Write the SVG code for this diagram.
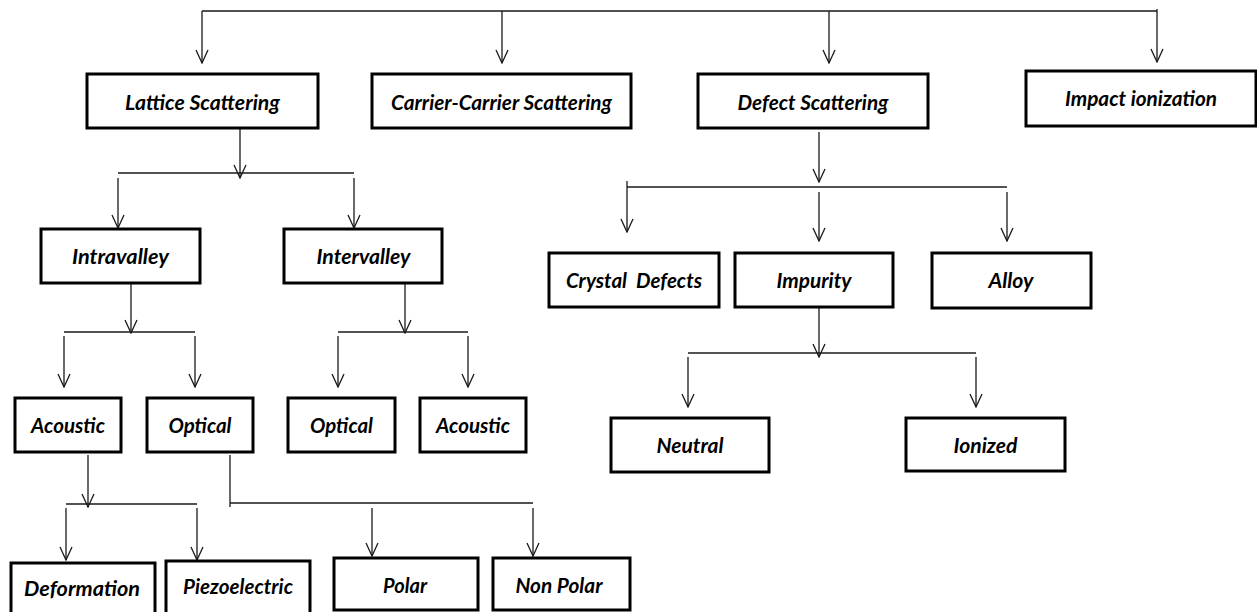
<svg xmlns="http://www.w3.org/2000/svg" width="1257" height="612" viewBox="0 0 1257 612">
<style>
.box rect{fill:#fff;stroke:#000;stroke-width:3}
.box text{font-family:Lato,"Open Sans","Liberation Sans",sans-serif;font-weight:bold;font-style:italic;font-size:21.5px;fill:#000;text-anchor:middle}
#connectors path{fill:none;stroke:#1a1a1a;stroke-width:1.3}
#connectors path.arr{marker-end:url(#v)}
</style>
<defs>
<marker id="v" viewBox="-7 -14 14 15" refX="0" refY="0" markerWidth="14" markerHeight="15" markerUnits="userSpaceOnUse" orient="0">
<path d="M-6,-13 L0,0 L6,-13" fill="none" stroke="#1a1a1a" stroke-width="1.3"/>
</marker>
</defs>
<rect width="1257" height="612" fill="#fff"/>
<g id="connectors">
<path d="M202,11 H1157 M1157,9 V11"/>
<path class="arr" d="M202,11 V63"/>
<path class="arr" d="M502,11 V63"/>
<path class="arr" d="M829,11 V63"/>
<path class="arr" d="M1157,11 V62"/>
<path class="arr" d="M240,128 V178"/>
<path d="M118,173 H354"/>
<path class="arr" d="M118,178 V228"/>
<path class="arr" d="M354,178 V228"/>
<path class="arr" d="M131,283 V333"/>
<path d="M64,332 H195"/>
<path class="arr" d="M64,336 V387"/>
<path class="arr" d="M195,336 V387"/>
<path class="arr" d="M405,283 V333"/>
<path d="M338,332 H468"/>
<path class="arr" d="M338,336 V387"/>
<path class="arr" d="M468,336 V387"/>
<path class="arr" d="M88,455 V507"/>
<path d="M66,504 H197"/>
<path class="arr" d="M66,508 V560"/>
<path class="arr" d="M197,508 V560"/>
<path d="M230,455 V507 M230,503 H533"/>
<path class="arr" d="M372,508 V556"/>
<path class="arr" d="M533,508 V556"/>
<path class="arr" d="M819,132 V182"/>
<path d="M627,187 H1007"/>
<path class="arr" d="M627,181 V232"/>
<path class="arr" d="M819,192 V241"/>
<path class="arr" d="M1007,192 V241"/>
<path class="arr" d="M819,307 V357"/>
<path d="M688,353 H976"/>
<path class="arr" d="M688,357 V407"/>
<path class="arr" d="M976,357 V407"/>
</g>
<g id="lattice" class="box"><rect x="87" y="74" width="231" height="54"/><text x="202.5" y="110" textLength="155" lengthAdjust="spacingAndGlyphs">Lattice Scattering</text></g>
<g id="carrier" class="box"><rect x="372" y="74" width="259" height="54"/><text x="501.5" y="110" textLength="221" lengthAdjust="spacingAndGlyphs">Carrier-Carrier Scattering</text></g>
<g id="defect" class="box"><rect x="698" y="74" width="230" height="54"/><text x="813" y="110" textLength="151" lengthAdjust="spacingAndGlyphs">Defect Scattering</text></g>
<g id="impact" class="box"><rect x="1026" y="71" width="230" height="55"/><text x="1141" y="106" textLength="152" lengthAdjust="spacingAndGlyphs">Impact ionization</text></g>
<g id="intravalley" class="box"><rect x="41" y="229" width="159" height="54"/><text x="120.5" y="264" textLength="97" lengthAdjust="spacingAndGlyphs">Intravalley</text></g>
<g id="intervalley" class="box"><rect x="284" y="229" width="158" height="54"/><text x="363.5" y="264" textLength="94" lengthAdjust="spacingAndGlyphs">Intervalley</text></g>
<g id="acoustic1" class="box"><rect x="15" y="398" width="106" height="54"/><text x="68" y="433" textLength="74" lengthAdjust="spacingAndGlyphs">Acoustic</text></g>
<g id="optical1" class="box"><rect x="147" y="398" width="106" height="54"/><text x="200" y="433" textLength="63" lengthAdjust="spacingAndGlyphs">Optical</text></g>
<g id="optical2" class="box"><rect x="288" y="398" width="107" height="54"/><text x="341.5" y="433" textLength="63" lengthAdjust="spacingAndGlyphs">Optical</text></g>
<g id="acoustic2" class="box"><rect x="420" y="398" width="106" height="54"/><text x="473" y="433" textLength="74" lengthAdjust="spacingAndGlyphs">Acoustic</text></g>
<g id="crystal" class="box"><rect x="549" y="253" width="170" height="54"/><text x="634" y="288" textLength="136" lengthAdjust="spacingAndGlyphs" xml:space="preserve">Crystal  Defects</text></g>
<g id="impurity" class="box"><rect x="735" y="253" width="158" height="54"/><text x="814" y="288" textLength="75" lengthAdjust="spacingAndGlyphs">Impurity</text></g>
<g id="alloy" class="box"><rect x="932" y="253" width="159" height="55"/><text x="1011" y="288" textLength="45" lengthAdjust="spacingAndGlyphs">Alloy</text></g>
<g id="neutral" class="box"><rect x="611" y="418" width="158" height="54"/><text x="690" y="453" textLength="67" lengthAdjust="spacingAndGlyphs">Neutral</text></g>
<g id="ionized" class="box"><rect x="906" y="418" width="159" height="53"/><text x="985.5" y="453" textLength="64" lengthAdjust="spacingAndGlyphs">Ionized</text></g>
<g id="deformation" class="box"><rect x="11" y="563" width="144" height="54"/><text x="82" y="596" textLength="116" lengthAdjust="spacingAndGlyphs">Deformation</text></g>
<g id="piezoelectric" class="box"><rect x="166" y="561" width="144" height="54"/><text x="238" y="594" textLength="110" lengthAdjust="spacingAndGlyphs">Piezoelectric</text></g>
<g id="polar" class="box"><rect x="334" y="558" width="144" height="52"/><text x="405" y="593" textLength="44" lengthAdjust="spacingAndGlyphs">Polar</text></g>
<g id="nonpolar" class="box"><rect x="493" y="558" width="137" height="52"/><text x="559" y="593" textLength="87" lengthAdjust="spacingAndGlyphs">Non Polar</text></g>
</svg>
